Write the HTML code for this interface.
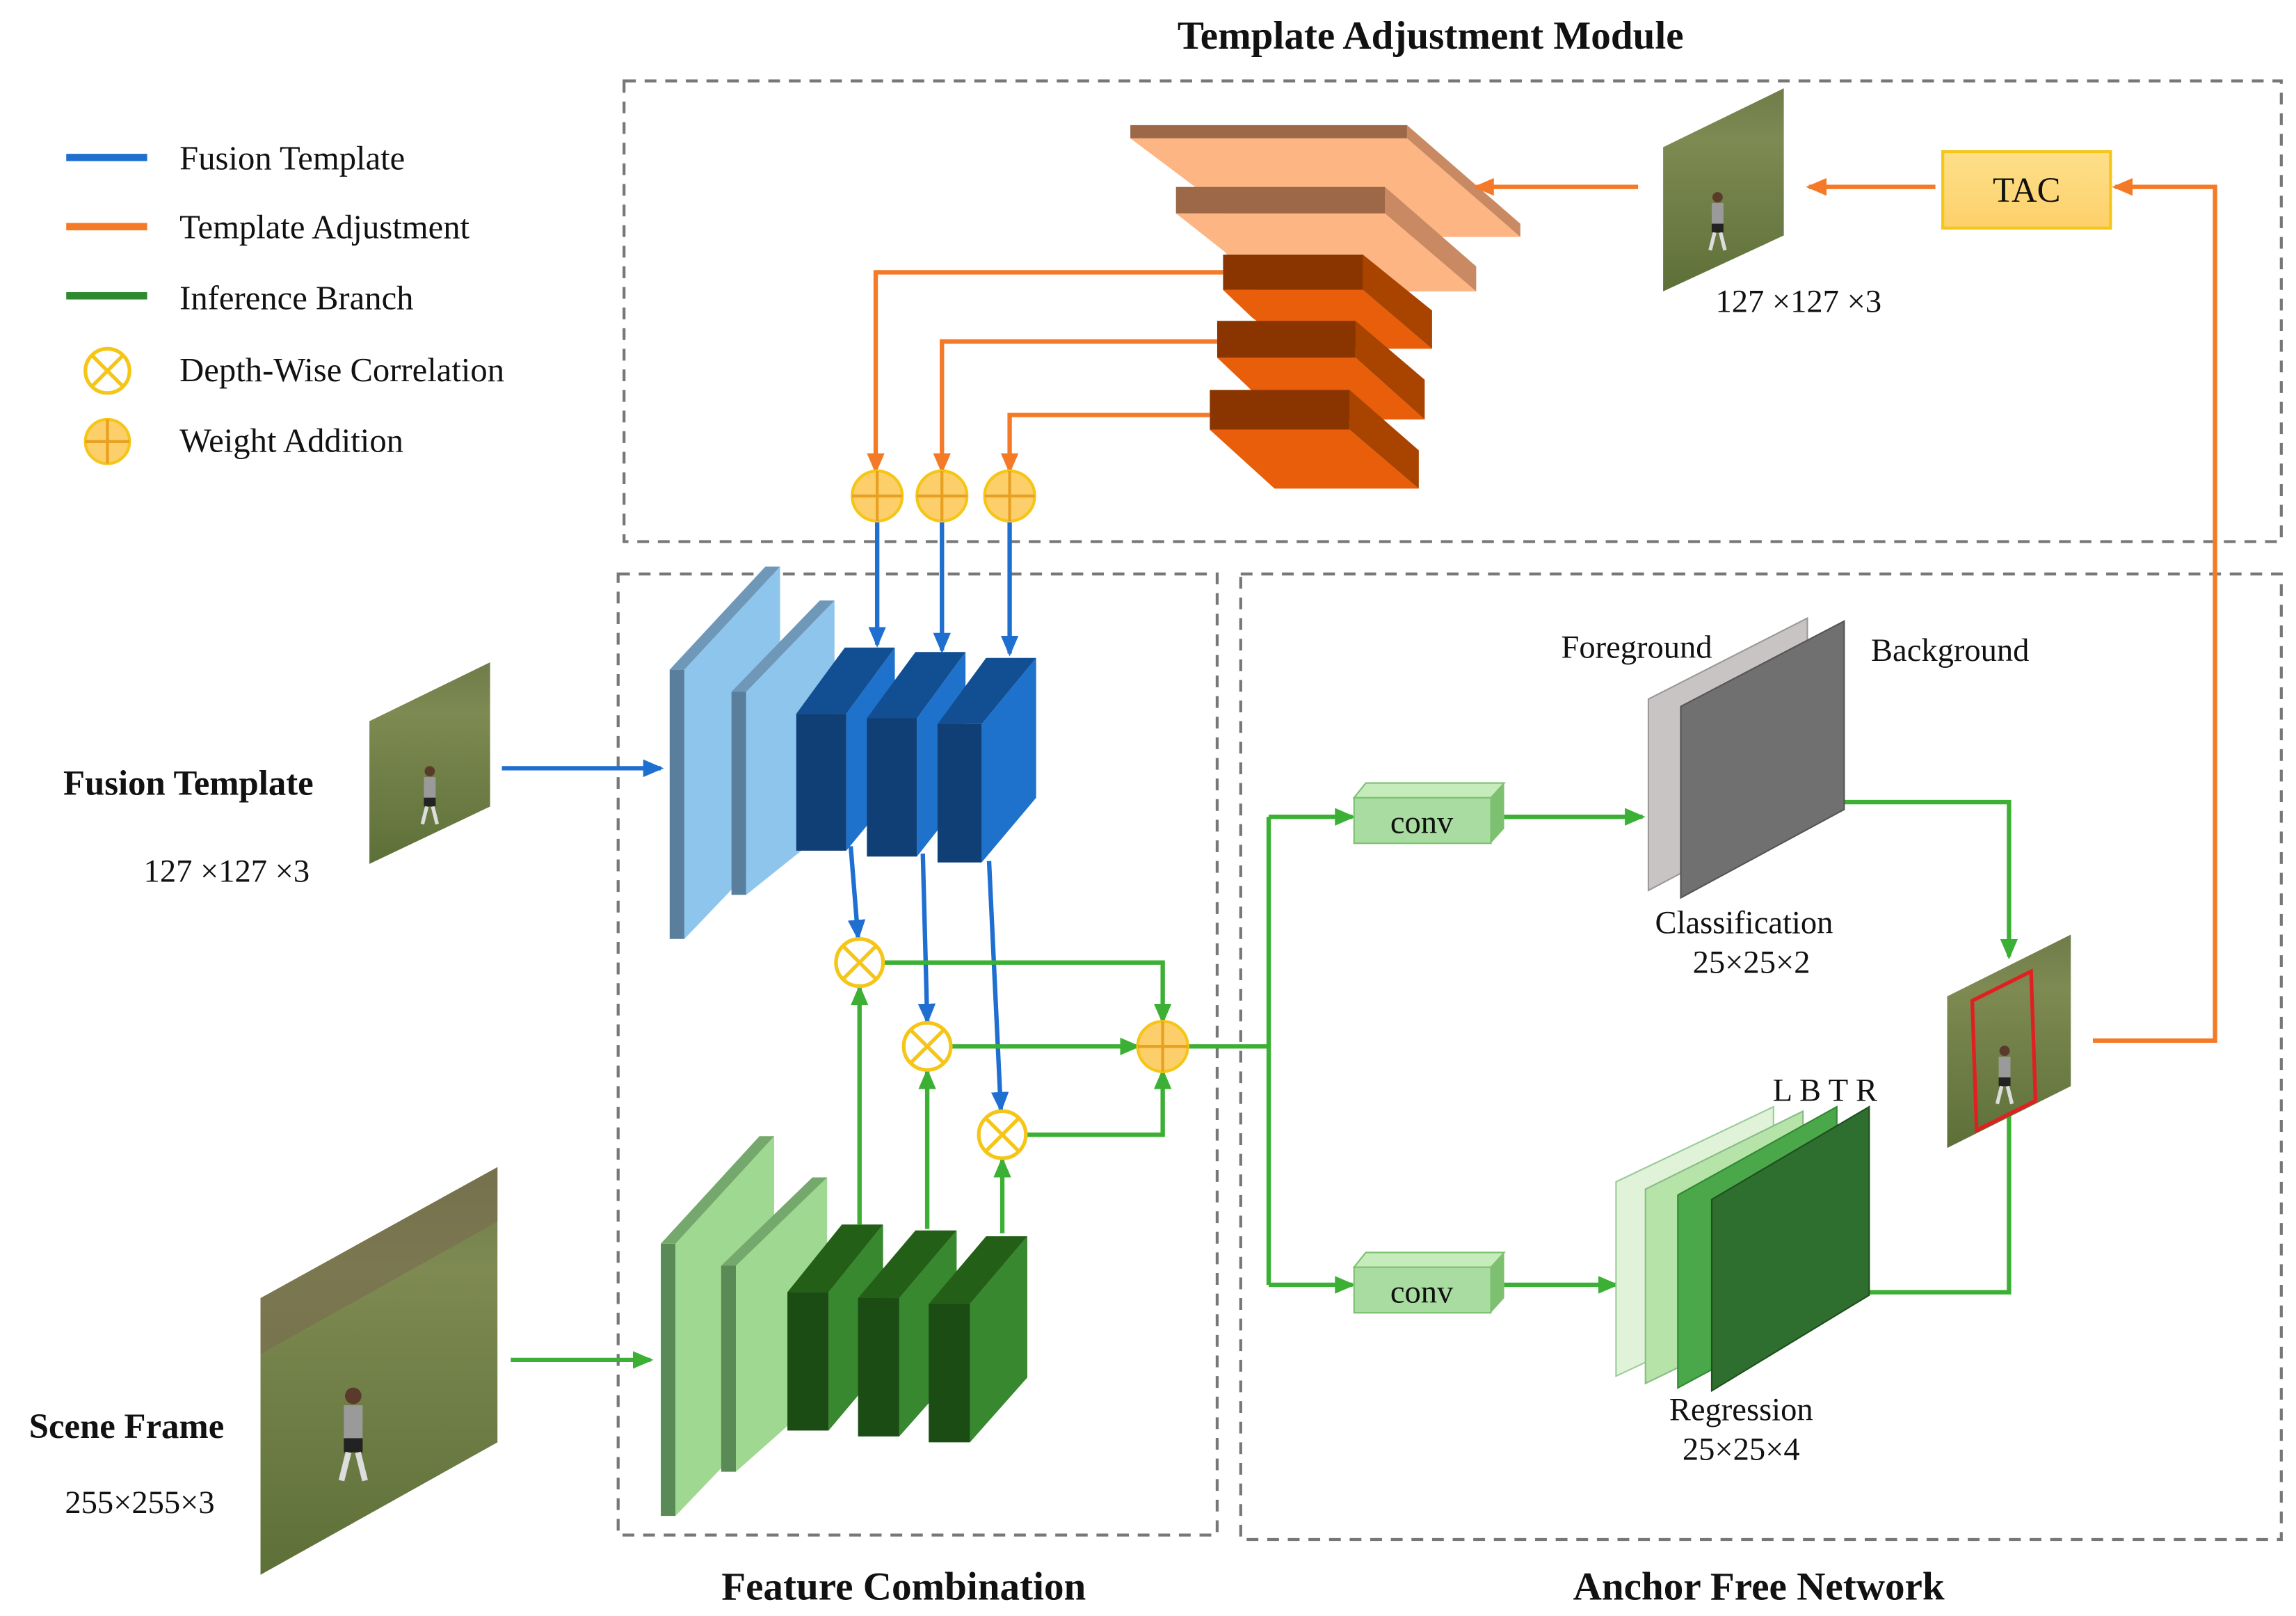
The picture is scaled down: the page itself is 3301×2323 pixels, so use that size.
<!DOCTYPE html>
<html><head><meta charset="utf-8"><style>
html,body{margin:0;padding:0;background:#fff;}
svg{display:block;}
text{font-family:"Liberation Serif",serif;fill:#111;}
</style></head><body>
<svg width="3301" height="2323" viewBox="0 0 1560 1098" preserveAspectRatio="none" xmlns="http://www.w3.org/2000/svg">
<defs>
<marker id="ab" markerWidth="14" markerHeight="12" refX="12" refY="6" orient="auto" markerUnits="userSpaceOnUse"><path d="M0,0 L14,6 L0,12 z" fill="#1f6fd0"/></marker>
<marker id="ao" markerWidth="14" markerHeight="12" refX="12" refY="6" orient="auto" markerUnits="userSpaceOnUse"><path d="M0,0 L14,6 L0,12 z" fill="#f47a28"/></marker>
<marker id="ag" markerWidth="14" markerHeight="12" refX="12" refY="6" orient="auto" markerUnits="userSpaceOnUse"><path d="M0,0 L14,6 L0,12 z" fill="#3cb034"/></marker>
<linearGradient id="field" x1="0" y1="0" x2="0" y2="1"><stop offset="0" stop-color="#6f7c4a"/><stop offset="0.25" stop-color="#7e8a52"/><stop offset="1" stop-color="#5d7038"/></linearGradient>
<linearGradient id="tac" x1="0" y1="0" x2="0" y2="1"><stop offset="0" stop-color="#fde08a"/><stop offset="1" stop-color="#fdd06a"/></linearGradient>
<g id="player"><rect x="-4" y="-22" width="8" height="14" fill="#9a9a9a"/><circle cx="0" cy="-26" r="3.5" fill="#5a3a2a"/><rect x="-4" y="-8" width="8" height="6" fill="#222"/><line x1="-2" y1="-2" x2="-5" y2="10" stroke="#ddd" stroke-width="2.5"/><line x1="2" y1="-2" x2="5" y2="10" stroke="#ddd" stroke-width="2.5"/></g>
</defs>

<text x="972" y="33" font-size="27" font-weight="bold" text-anchor="middle">Template Adjustment Module</text>
<text x="614" y="1087" font-size="27" font-weight="bold" text-anchor="middle">Feature Combination</text>
<text x="1195" y="1087" font-size="27" font-weight="bold" text-anchor="middle">Anchor Free Network</text>

<g fill="none" stroke="#777" stroke-width="2" stroke-dasharray="8,6">
<rect x="424" y="55" width="1126" height="313"/>
<rect x="420" y="390" width="407" height="653"/>
<rect x="843" y="390" width="707" height="656"/>
</g>

<line x1="45" y1="107" x2="100" y2="107" stroke="#1f6fd0" stroke-width="5"/>
<line x1="45" y1="154" x2="100" y2="154" stroke="#f47a28" stroke-width="5"/>
<line x1="45" y1="201" x2="100" y2="201" stroke="#2e8a2e" stroke-width="5"/>
<circle cx="73" cy="252" r="15" fill="#fff" stroke="#f5c518" stroke-width="2.5"/>
<path d="M62,241 L84,263 M84,241 L62,263" stroke="#f5c518" stroke-width="2.5"/>
<circle cx="73" cy="300" r="15" fill="#fdcf6a" stroke="#f5c518" stroke-width="2"/>
<path d="M58,300 H88 M73,285 V315" stroke="#e8a020" stroke-width="2"/>
<g font-size="23">
<text x="122" y="115">Fusion Template</text>
<text x="122" y="162">Template  Adjustment</text>
<text x="122" y="210">Inference Branch</text>
<text x="122" y="259">Depth-Wise Correlation</text>
<text x="122" y="307">Weight Addition</text>
</g>

<!-- pyramid -->
<polygon points="768,94 956,94 1033,161 850,161 812,127" fill="#fdb584"/>
<polygon points="956,85 1033,152 1033,161 956,94" fill="#c98a63"/>
<polygon points="768,85 956,85 956,94 768,94" fill="#9c6848"/>
<polygon points="799,145 941,145 1003,198 855,198 832,171" fill="#fdb584"/>
<polygon points="941,127 1003,181 1003,198 941,145" fill="#c98a63"/>
<polygon points="799,127 941,127 941,145 799,145" fill="#9c6848"/>

<polygon points="831,197 926,197 973,237 880,237 851,216" fill="#e85e0a"/>
<polygon points="926,173 973,211 973,237 926,197" fill="#a84300"/>
<polygon points="831,173 926,173 926,197 831,197" fill="#8a3500"/>

<polygon points="827,243 921,243 968,285 870,285 847,262" fill="#e85e0a"/>
<polygon points="921,218 968,258 968,285 921,243" fill="#a84300"/>
<polygon points="827,218 921,218 921,243 827,243" fill="#8a3500"/>

<polygon points="822,292 917,292 964,332 866,332" fill="#e85e0a"/>
<polygon points="917,265 964,306 964,332 917,292" fill="#a84300"/>
<polygon points="822,265 917,265 917,292 822,292" fill="#8a3500"/>

<polygon points="1130,100 1212,60 1212,160 1130,198" fill="url(#field)"/>
<use href="#player" transform="translate(1167,160)"/>
<text x="1222" y="212" font-size="22" text-anchor="middle">127 ×127 ×3</text>

<rect x="1320" y="103" width="114" height="52" fill="url(#tac)" stroke="#f5c518" stroke-width="2"/>
<text x="1377" y="137" font-size="24" text-anchor="middle">TAC</text>

<g stroke="#f47a28" stroke-width="3" fill="none">
<line x1="1113" y1="127" x2="1003" y2="127" marker-end="url(#ao)"/>
<line x1="1315" y1="127" x2="1229" y2="127" marker-end="url(#ao)"/>
<polyline points="1422,707 1505,707 1505,127 1437,127" marker-end="url(#ao)"/>
<polyline points="831,185 595,185 595,320" marker-end="url(#ao)"/>
<polyline points="827,232 640,232 640,320" marker-end="url(#ao)"/>
<polyline points="822,282 686,282 686,320" marker-end="url(#ao)"/>
</g>
<g>
<circle cx="596" cy="337" r="17" fill="#fdcf6a" stroke="#f5c518" stroke-width="2"/>
<circle cx="640" cy="337" r="17" fill="#fdcf6a" stroke="#f5c518" stroke-width="2"/>
<circle cx="686" cy="337" r="17" fill="#fdcf6a" stroke="#f5c518" stroke-width="2"/>
<path d="M579,337 H613 M596,320 V354 M623,337 H657 M640,320 V354 M669,337 H703 M686,320 V354" stroke="#e8a020" stroke-width="2"/>
</g>

<!-- blue backbone -->
<polygon points="455,455 465,455 465,638 455,638" fill="#5a7f9c"/>
<polygon points="465,455 530,385 530,570 465,638" fill="#8ec5ec"/>
<polygon points="455,455 520,385 530,385 465,455" fill="#6f97b8"/>
<polygon points="497,470 507,470 507,608 497,608" fill="#5a7f9c"/>
<polygon points="507,470 567,408 567,560 507,608" fill="#8ec5ec"/>
<polygon points="497,470 557,408 567,408 507,470" fill="#6f97b8"/>
<g>
<polygon points="575,485 608,440 608,538 575,578" fill="#1e72cc"/>
<polygon points="541,485 574,440 608,440 575,485" fill="#124f92"/>
<rect x="541" y="485" width="34" height="93" fill="#103f75"/>
</g>
<g>
<polygon points="623,488 656,443 656,540 623,582" fill="#1e72cc"/>
<polygon points="589,488 622,443 656,443 623,488" fill="#124f92"/>
<rect x="589" y="488" width="34" height="94" fill="#103f75"/>
</g>
<g>
<polygon points="667,492 704,447 704,542 667,586" fill="#1e72cc"/>
<polygon points="637,492 670,447 704,447 667,492" fill="#124f92"/>
<rect x="637" y="492" width="30" height="94" fill="#103f75"/>
</g>

<!-- green backbone -->
<polygon points="449,845 459,845 459,1030 449,1030" fill="#5a8a55"/>
<polygon points="459,845 526,772 526,960 459,1030" fill="#9fd890"/>
<polygon points="449,845 516,772 526,772 459,845" fill="#74a86c"/>
<polygon points="490,860 500,860 500,1000 490,1000" fill="#5a8a55"/>
<polygon points="500,860 562,800 562,945 500,1000" fill="#9fd890"/>
<polygon points="490,860 552,800 562,800 500,860" fill="#74a86c"/>
<g>
<polygon points="563,878 600,832 600,928 563,972" fill="#37882f"/>
<polygon points="535,878 572,832 600,832 563,878" fill="#245f18"/>
<rect x="535" y="878" width="28" height="94" fill="#1b4c14"/>
</g>
<g>
<polygon points="611,882 650,836 650,932 611,976" fill="#37882f"/>
<polygon points="583,882 622,836 650,836 611,882" fill="#245f18"/>
<rect x="583" y="882" width="28" height="94" fill="#1b4c14"/>
</g>
<g>
<polygon points="659,886 698,840 698,936 659,980" fill="#37882f"/>
<polygon points="631,886 670,840 698,840 659,886" fill="#245f18"/>
<rect x="631" y="886" width="28" height="94" fill="#1b4c14"/>
</g>

<g stroke="#1f6fd0" stroke-width="3" fill="none">
<line x1="596" y1="355" x2="596" y2="438" marker-end="url(#ab)"/>
<line x1="640" y1="355" x2="640" y2="442" marker-end="url(#ab)"/>
<line x1="686" y1="355" x2="686" y2="444" marker-end="url(#ab)"/>
<line x1="578" y1="575" x2="583" y2="637" marker-end="url(#ab)"/>
<line x1="627" y1="580" x2="630" y2="694" marker-end="url(#ab)"/>
<line x1="672" y1="585" x2="680" y2="754" marker-end="url(#ab)"/>
<line x1="341" y1="522" x2="449" y2="522" marker-end="url(#ab)"/>
</g>

<g stroke="#3cb034" stroke-width="3" fill="none">
<line x1="584" y1="832" x2="584" y2="671" marker-end="url(#ag)"/>
<line x1="630" y1="835" x2="630" y2="728" marker-end="url(#ag)"/>
<line x1="681" y1="838" x2="681" y2="788" marker-end="url(#ag)"/>
<polyline points="600,654 790,654 790,694" marker-end="url(#ag)"/>
<line x1="646" y1="711" x2="773" y2="711" marker-end="url(#ag)"/>
<polyline points="697,771 790,771 790,728" marker-end="url(#ag)"/>
<line x1="347" y1="924" x2="442" y2="924" marker-end="url(#ag)"/>
<line x1="807" y1="711" x2="862" y2="711"/>
<line x1="862" y1="555" x2="862" y2="873"/>
<line x1="862" y1="555" x2="919" y2="555" marker-end="url(#ag)"/>
<line x1="862" y1="873" x2="919" y2="873" marker-end="url(#ag)"/>
<line x1="1022" y1="555" x2="1116" y2="555" marker-end="url(#ag)"/>
<line x1="1022" y1="873" x2="1098" y2="873" marker-end="url(#ag)"/>
<polyline points="1225,545 1365,545 1365,650" marker-end="url(#ag)"/>
<polyline points="1240,878 1365,878 1365,738" marker-end="url(#ag)"/>
</g>

<g fill="#fff" stroke="#f5c518" stroke-width="2.5">
<circle cx="584" cy="654" r="16"/><circle cx="630" cy="711" r="16"/><circle cx="681" cy="771" r="16"/>
</g>
<path d="M573,643 L595,665 M595,643 L573,665 M619,700 L641,722 M641,700 L619,722 M670,760 L692,782 M692,760 L670,782" stroke="#f5c518" stroke-width="2.5"/>
<circle cx="790" cy="711" r="17" fill="#fdcf6a" stroke="#f5c518" stroke-width="2"/>
<path d="M773,711 H807 M790,694 V728" stroke="#e8a020" stroke-width="2"/>

<g>
<polygon points="920,542 928,532 1022,532 1013,542" fill="#c6ecbc" stroke="#7cc070"/>
<polygon points="1013,542 1022,532 1022,563 1013,573" fill="#7cc070"/>
<rect x="920" y="542" width="93" height="31" fill="#a8dca0" stroke="#7cc070"/>
<text x="966" y="566" font-size="22" text-anchor="middle">conv</text>
</g>
<g>
<polygon points="920,861 928,851 1022,851 1013,861" fill="#c6ecbc" stroke="#7cc070"/>
<polygon points="1013,861 1022,851 1022,882 1013,892" fill="#7cc070"/>
<rect x="920" y="861" width="93" height="31" fill="#a8dca0" stroke="#7cc070"/>
<text x="966" y="885" font-size="22" text-anchor="middle">conv</text>
</g>

<polygon points="1120,475 1228,420 1228,548 1120,605" fill="#c8c4c4" stroke="#999"/>
<polygon points="1142,480 1253,422 1253,550 1142,610" fill="#707070" stroke="#555"/>
<g font-size="22">
<text x="1112" y="447" text-anchor="middle">Foreground</text>
<text x="1325" y="449" text-anchor="middle">Background</text>
<text x="1185" y="634" text-anchor="middle">Classification</text>
<text x="1190" y="661" text-anchor="middle">25×25×2</text>
</g>

<polygon points="1098,803 1205,752 1205,885 1098,935" fill="#e0f3d8" stroke="#9c9"/>
<polygon points="1118,808 1225,755 1225,888 1118,940" fill="#b5e3a8" stroke="#8b8"/>
<polygon points="1140,812 1248,752 1248,885 1140,943" fill="#4aa84a" stroke="#383"/>
<polygon points="1163,815 1270,752 1270,880 1163,945" fill="#2e6e2e" stroke="#1f4f1f"/>
<text x="1240" y="748" font-size="22" text-anchor="middle" font-family="Liberation Sans, sans-serif">L B T R</text>
<text x="1183" y="965" font-size="22" text-anchor="middle">Regression</text>
<text x="1183" y="992" font-size="22" text-anchor="middle">25×25×4</text>

<polygon points="1323,677 1407,635 1407,738 1323,780" fill="url(#field)"/>
<use href="#player" transform="translate(1362,740)"/>
<polygon points="1340,680 1380,660 1383,748 1343,768" fill="none" stroke="#e02020" stroke-width="2.5"/>

<polygon points="251,490 333,450 333,548 251,587" fill="url(#field)"/>
<use href="#player" transform="translate(292,550)"/>
<polygon points="177,882 338,793 338,980 177,1070" fill="url(#field)"/>
<polygon points="177,882 338,793 338,830 177,920" fill="#7a6a50" opacity="0.6"/>
<use href="#player" transform="translate(240,990) scale(1.6)"/>

<g font-size="24" font-weight="bold">
<text x="128" y="540" text-anchor="middle">Fusion Template</text>
<text x="86" y="977" text-anchor="middle">Scene Frame</text>
</g>
<g font-size="22">
<text x="154" y="599" text-anchor="middle">127 ×127 ×3</text>
<text x="95" y="1028" text-anchor="middle">255×255×3</text>
</g>
</svg>
</body></html>
